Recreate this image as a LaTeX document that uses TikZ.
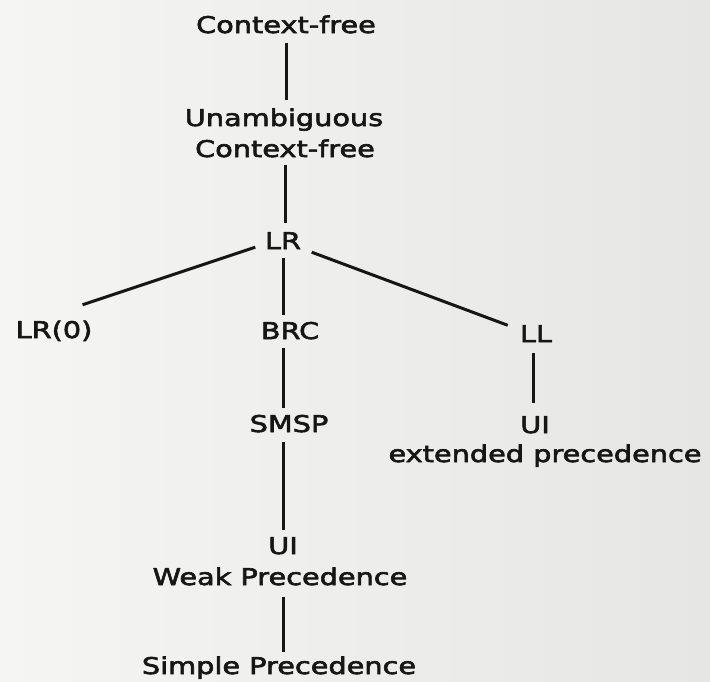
\documentclass[tikz,border=0pt]{standalone}
\usepackage{fontspec}
\setmainfont{DejaVu Sans}[FakeStretch=1.25, LetterSpace=0, FakeBold=2.6]
\definecolor{ink}{RGB}{22,22,22}
\definecolor{paperL}{RGB}{245,245,243}
\definecolor{paperR}{RGB}{230,230,228}
\begin{document}
\begin{tikzpicture}[x=1pt,y=-1pt,
  lbl/.style={anchor=base, inner sep=0pt, text height=16.5pt, text depth=0pt,
              font=\fontsize{23}{28}\selectfont, text=ink},
  edge/.style={line width=3pt, draw=ink}]
\shade[left color=paperL, right color=paperR] (0,0) rectangle (710,681);
\useasboundingbox (0,0) rectangle (710,681);

% nodes (x center, baseline y)
\node[lbl] (cf)     at (286,33)  {Context-free};
\node[lbl] (unamb)  at (284,126) {Unambiguous};
\node[lbl] (cf2)    at (285,157) {Context-free};
\node[lbl] (lr)     at (283,249) {LR};
\node[lbl] (lr0)    at (54,338)  {LR(0)};
\node[lbl] (brc)    at (290,339) {BRC};
\node[lbl] (ll)     at (536,342) {LL};
\node[lbl] (uir)    at (535,433) {UI};
\node[lbl] (ext)    at (545,462) {extended precedence};
\node[lbl] (smsp)   at (289,432) {SMSP};
\node[lbl] (uiw)    at (283,554) {UI};
\node[lbl] (weak)   at (280,585) {Weak Precedence};
\node[lbl] (simple) at (279,674) {Simple Precedence};

% connectors
\draw[edge] ([yshift=-10pt]cf.south) -- ([yshift=9.5pt]cf.south |- unamb.north);
\draw[edge] ([yshift=-8pt]cf2.south) -- ([yshift=9.5pt]cf2.south |- lr.north);
\draw[edge] ([yshift=-9pt]lr.south) -- ([yshift=7.5pt]lr.south |- brc.north);
\draw[edge] ([xshift=-9.5pt,yshift=2pt]lr.south west) -- ([xshift=-10pt,yshift=16.5pt]lr0.north east);
\draw[edge] ([xshift=10.5pt,yshift=-3pt]lr.south east) -- ([xshift=-12pt]ll.north west);
\draw[edge] ([xshift=-7pt,yshift=-9pt]brc.south) -- ([xshift=-7pt,yshift=7pt]brc.south |- smsp.north);
\draw[edge] ([xshift=-6pt,yshift=-10pt]smsp.south) -- ([xshift=-6pt,yshift=7.5pt]smsp.south |- uiw.north);
\draw[edge] ([xshift=-3pt,yshift=-11pt]ll.south) -- ([xshift=-3pt,yshift=13pt]ll.south |- uir.north);
\draw[edge] ([xshift=3pt,yshift=-12pt]weak.south) -- ([xshift=3pt,yshift=5.5pt]weak.south |- simple.north);
\end{tikzpicture}
\end{document}
